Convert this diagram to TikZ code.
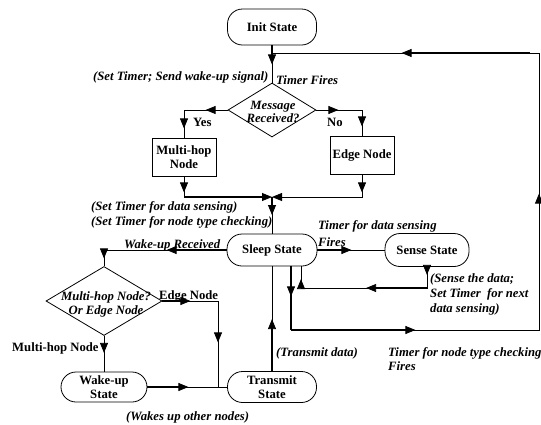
\documentclass[tikz,border=0pt]{standalone}
\usepackage{fontspec}
\setmainfont{Liberation Serif}
\usetikzlibrary{shapes.geometric,arrows.meta,decorations.markings,calc}
\begin{document}
\begin{tikzpicture}[x=1pt,y=-1pt,
  every node/.style={font=\fontsize{12.7}{14}\selectfont\bfseries, inner sep=0pt},
  stadium/.style={draw, rounded corners=15pt, minimum width=#1, minimum height=32pt, align=center, line width=0.8pt},
  rbox/.style={draw, minimum width=64pt, minimum height=38pt, align=center, line width=0.8pt},
  dia/.style={draw, diamond, inner sep=0pt, line width=0.8pt},
  itl/.style={font=\fontsize{12.7}{14}\selectfont\bfseries\itshape},
  lbl/.style={anchor=base west, itl},
  lblb/.style={anchor=base west},
  conn/.style={line width=0.8pt},
  am/.style={postaction={decorate,decoration={markings,mark=at position #1 with {\arrow{Triangle[length=10pt,width=8pt]}}}}},
  amt/.style 2 args={postaction={decorate,decoration={markings,mark=at position #1 with {\draw[line width=1.8pt] (-#2,0) -- (-4pt,0); \arrow{Triangle[length=10pt,width=8pt]}}}}},
  endtip/.style={-{Triangle[length=10pt,width=8pt]}}
]
\useasboundingbox (0,0) rectangle (541,424);
% nodes
\node[stadium=89pt, minimum height=36pt] (init) at (272,27) {Init State};
\node[dia, minimum width=88pt, minimum height=54pt] (msg) at (272,110) {};
\node[itl, align=center, font=\fontsize{12.7}{11.5}\selectfont\bfseries\itshape] (msgt) at (273,112) {Message\\Received?};
\node[rbox] (mh) at (184,157) {Multi-hop\\Node};
\node[rbox] (edge) at (362,155) {Edge Node};
\node[stadium=90pt] (sleep) at (272,250) {Sleep State};
\node[stadium=84pt, minimum height=33pt] (sense) at (427,250) {Sense State};
\node[dia, minimum width=116pt, minimum height=69pt] (q2) at (104,301) {};
\node[itl, align=center] (q2t) at (106,304) {Multi-hop Node?\\Or Edge Node};
\node[stadium=86pt, minimum height=30pt] (wake) at (104,387) {Wake-up\\State};
\node[stadium=89pt, minimum height=31pt] (trans) at (272,387) {Transmit\\State};
% junctions
\coordinate (merge) at (272,197);
\coordinate (jtop) at (272,53);
\coordinate (rb) at (539,330);
\coordinate (rt) at (539,53);
\coordinate (jr) at (301,288);
\coordinate (j2) at (218,387);
% connectors
\draw[conn, amt={19pt}{19pt}] (init.south) -- (msg.north);
\draw[conn, am=22pt, am=62pt] (msg.west) -| (mh.north);
\draw[conn, am=22pt, am=62pt] (msg.east) -| (edge.north);
\draw[conn, endtip, am=16pt] (mh.south) |- (merge);
\draw[line width=1.8pt] (mh.south |- merge) -- ([xshift=-6pt]merge);
\draw[conn, endtip, am=18pt] (edge.south) |- (merge);
\draw[conn, amt={18pt}{18pt}] (merge) -- (sleep.north);
\draw[conn, amt={34pt}{34pt}] (sleep.east) -- (sense.west);
\draw[conn, am=8pt, amt={82pt}{62pt}, am=156pt] (sense.south) |- (jr) -- ([xshift=29pt]sleep.south);
\draw[conn, amt={30pt}{30pt}, amt={188pt}{124pt}, am=448pt, amt={726pt}{128pt}] ([xshift=19pt]sleep.south) |- (rb) -- (rt) -- (jtop);
\draw[line width=1.8pt] ([xshift=19pt]sleep.south) |- (rb -| 291,0);
\draw[conn, amt={60pt}{60pt}, am=131pt] (sleep.west) -| (q2.north);
\draw[conn, amt={28pt}{28pt}, am=97pt] (q2.east) -| (j2);
\draw[conn, am=17pt] (q2.south) -- (wake.north);
\draw[conn, amt={41pt}{41pt}] (wake.east) -- (trans.west);
\draw[conn, amt={52pt}{52pt}] (trans.north) -- (sleep.south);
% labels
\node[lbl] (l1) at (93,80) {(Set Timer; Send wake-up signal)};
\node[lbl] (l2) at (276,84) {Timer Fires};
\node[lblb] (l3) at (193,126) {Yes};
\node[lblb] (l4) at (327,126) {No};
\node[lbl] (l5) at (91,210) {(Set Timer for data sensing)};
\node[lbl] (l6) at (91,225) {(Set Timer for node type checking)};
\node[lbl] (l7) at (318,229) {Timer for data sensing};
\node[lbl] (l8) at (318,246) {Fires};
\node[lbl] (l9) at (124,248) {Wake-up Received};
\node[lbl] (l10) at (430,282) {(Sense the data;};
\node[lbl] (l11) at (430,297) {Set Timer\ \ for next};
\node[lbl] (l12) at (430,312) {data sensing)};
\node[lblb] (l13) at (159,299) {Edge Node};
\node[lblb] (l14) at (12,351) {Multi-hop Node};
\node[lbl] (l15) at (276,356) {(Transmit data)};
\node[lbl] (l16) at (388,356) {Timer for node type checking};
\node[lbl] (l17) at (388,370) {Fires};
\node[lbl] (l18) at (126,420) {(Wakes up other nodes)};
\end{tikzpicture}
\end{document}
